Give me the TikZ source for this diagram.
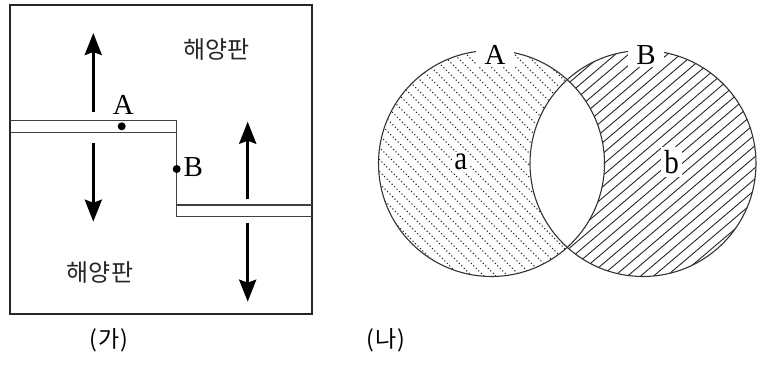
\documentclass[tikz,border=0pt]{standalone}
\usepackage{fontspec}
\setmainfont{Liberation Serif}
\newfontfamily\kor{Noto Sans CJK KR}
\usetikzlibrary{arrows.meta,calc}
\tikzset{
  every picture/.style={line width=0.9pt},
  frame/.style={draw=black!85, line width=1.3pt},
  ridge/.style={draw=black!75, line width=1.2pt},
  move/.style={-{Stealth[length=22pt,width=17pt,inset=3pt]}, line width=3.2pt},
  plate/.style={font=\kor\fontsize{24}{24}\selectfont, inner sep=0pt, text=black!85},
  letter/.style={font=\fontsize{29}{29}\selectfont, inner sep=1pt},
  pt/.style={circle, fill=black, inner sep=0pt, minimum size=8pt},
  caption/.style={font=\kor\fontsize{23}{23}\selectfont},
  rim/.style={draw=black!80, line width=1.1pt},
  dots/.style={black!90, line width=1.5pt, dash pattern=on 0pt off 3.5pt, line cap=round},
  hatch/.style={black!85, line width=0.9pt},
}
\newcommand{\tallchar}[1]{\scalebox{1}[1.15]{#1}}

\begin{document}
\begin{tikzpicture}[x=1pt, y=-1pt]
  \useasboundingbox (0,0) rectangle (770,365);

  % (가)
  \draw[frame] (10,5) rectangle (312,314);
  \draw[ridge] (10,120.7) -- (176.7,120.7) -- (176.7,216.7) -- (312,216.7);
  \draw[ridge] (10,132.7) -- (176.7,132.7);
  \draw[ridge] (176.7,205) -- (312,205);
  \coordinate (upL0) at (93.3,111.7);  \coordinate (upL1) at (93.3,33);
  \coordinate (dnL0) at (93.3,142.7);  \coordinate (dnL1) at (93.3,221.7);
  \coordinate (upR0) at (247.7,199);   \coordinate (upR1) at (247.7,121.7);
  \coordinate (dnR0) at (247.7,223);   \coordinate (dnR1) at (247.7,301.7);
  \draw[move] (upL0) -- (upL1); \draw[move] (dnL0) -- (dnL1);
  \draw[move] (upR0) -- (upR1); \draw[move] (dnR0) -- (dnR1);
  \node[pt] (dotA) at (121.7,126.3) {};
  \node[letter] (labA) at (123.3,105) {A};
  \node[pt] (dotB) at (176.7,169) {};
  \node[letter] (labB) at (193.3,167.5) {B};
  \node[plate] (plateU) at (216.7,50) {해양판};
  \node[plate] (plateL) at (100,273) {해양판};
  \node[caption] (capL) at (109,340) {(\hspace{1pt}가\hspace{1pt})};

  % (나)
  \coordinate (cA) at (491.5,163.5);
  \coordinate (cB) at (643,163.5);
  \begin{scope}
    \clip (cA) circle (113);
    \foreach \d in {-336,-324,...,336}
      \draw[dots] ($(cA)+(\d-160,-160)$) -- ++(320,320);
  \end{scope}
  \begin{scope}
    \clip (cB) circle (113);
    \fill[white] (cB) circle (113);
    \foreach \d in {-351,-338,...,351}
      \draw[hatch] ($(cB)+(\d-160,136)$) -- ++(320,-272);
  \end{scope}
  \begin{scope}
    \clip (cA) circle (113);
    \fill[white] (cB) circle (113);
  \end{scope}
  \draw[rim] (cA) circle (113);
  \draw[rim] (cB) circle (113);
  \node[letter, fill=white, inner xsep=9pt, inner ysep=2pt] (vA) at (495,55) {A};
  \node[letter, fill=white, inner xsep=8pt, inner ysep=2pt] (vB) at (646,55) {B};
  \node[letter, fill=white, inner sep=2pt] (va) at (460.7,161.7) {\tallchar{a}};
  \node[letter, fill=white, inner sep=3pt] (vb) at (671.7,162) {\tallchar{b}};
  \node[caption] (capR) at (386,340) {(\hspace{1pt}나\hspace{1pt})};
\end{tikzpicture}
\end{document}
